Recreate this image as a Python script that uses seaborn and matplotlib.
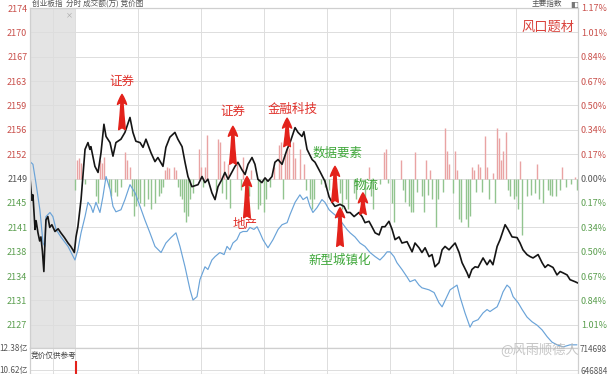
import matplotlib
matplotlib.use("Agg")
import matplotlib.pyplot as plt
import numpy as np
import seaborn as sns

sns.set_theme(style="white")
plt.rcParams["font.family"] = ["Noto Sans CJK SC", "DejaVu Sans"]
plt.rcParams["axes.unicode_minus"] = False

# ---- data ----
prev_close = 2149.2
step = 3.59

left_labels = ["2127", "2131", "2134", "2138", "2141", "2145", "2149",
               "2152", "2156", "2159", "2163", "2167", "2170", "2174"]
right_labels = ["1.01%", "0.84%", "0.67%", "0.50%", "0.34%", "0.17%", "0.00%",
                "0.17%", "0.34%", "0.50%", "0.67%", "0.84%", "1.01%", "1.17%"]

# minutes from the open (negative = call auction), index points
black_t = [-21.4, -20.5, -20.0, -19.0, -18.5, -17.6, -16.8, -16.2, -15.5, -14.8,
           -14.3, -13.8, -12.9, -12.0, -11.0, -9.5, -8.0, -6.7, -5.0, -3.3,
           -2.0, -1.0, -0.3, 0.5, 1.4, 2.9, 4.8, 6.2, 7.1, 7.6,
           9.5, 11.0, 12.4, 13.8, 14.8, 16.7, 18.1, 19.5, 21.9, 23.8,
           26.2, 27.6, 29.0, 31.0, 32.4, 33.8, 36.2, 38.1, 39.5, 41.9,
           43.3, 45.2, 47.6, 49.0, 51.0, 52.4, 53.8, 55.7, 58.6, 60.5,
           61.9, 63.3, 65.2, 66.7, 68.1, 70.0, 71.4, 72.9, 74.8, 76.2,
           77.6, 79.5, 81.0, 82.4, 84.3, 85.7, 87.1, 89.0, 90.5, 91.9,
           93.8, 95.2, 96.7, 98.6, 101.0, 102.4, 104.8, 106.2, 108.1, 109.0,
           110.5, 112.9, 114.3, 116.7, 119.0, 121.0, 122.4, 123.8, 126.2, 128.1,
           129.5, 131.0, 132.9, 135.2, 136.7, 138.1, 140.0, 141.4, 142.9, 144.8,
           146.2, 147.6, 149.5, 151.0, 152.4, 154.3, 155.7, 158.1, 160.5, 161.9,
           163.8, 165.2, 166.7, 168.6, 170.0, 171.4, 173.3, 174.8, 176.2, 178.1,
           179.5, 181.0, 182.9, 184.3, 186.7, 187.6, 189.0, 190.5, 191.9, 194.3,
           196.2, 197.6, 199.0, 201.0, 202.4, 204.8, 206.2, 208.1, 210.5, 211.9,
           213.3, 215.2, 216.7, 218.1, 220.5, 222.4, 223.8, 225.2, 227.6, 229.5,
           231.0, 232.4, 234.3, 235.7, 238.1, 239.5]
black_v = [2149.3, 2146.0, 2146.8, 2141.7, 2143.0, 2141.2, 2140.0, 2140.6, 2138.5, 2135.5,
           2139.7, 2143.1, 2143.6, 2142.0, 2142.4, 2141.4, 2141.8, 2141.2, 2140.5, 2139.7,
           2139.2, 2138.7, 2138.3, 2140.6, 2142.1, 2146.1, 2153.5, 2154.5, 2153.5, 2153.9,
           2151.0, 2150.1, 2153.0, 2157.2, 2155.4, 2154.5, 2152.5, 2154.5, 2155.0, 2156.0,
           2158.2, 2156.0, 2154.7, 2154.5, 2153.8, 2155.0, 2153.0, 2151.7, 2152.3, 2151.0,
           2153.8, 2155.3, 2156.0, 2155.0, 2153.9, 2151.6, 2149.5, 2148.0, 2148.3, 2149.5,
           2148.6, 2149.1, 2147.1, 2146.1, 2148.0, 2149.1, 2150.1, 2149.1, 2150.2, 2151.0,
           2151.6, 2150.5, 2149.8, 2151.3, 2152.3, 2151.3, 2149.1, 2148.6, 2149.3, 2148.8,
           2149.5, 2151.6, 2152.0, 2151.3, 2153.5, 2154.5, 2156.7, 2156.0, 2155.4, 2156.1,
           2153.5, 2152.0, 2151.6, 2150.2, 2148.8, 2146.5, 2145.7, 2145.1, 2145.4, 2145.1,
           2144.2, 2144.2, 2143.6, 2144.2, 2143.6, 2142.7, 2142.9, 2142.1, 2141.2, 2140.9,
           2142.1, 2142.1, 2142.9, 2141.7, 2140.2, 2140.6, 2139.7, 2139.9, 2138.4, 2139.7,
           2139.0, 2138.3, 2139.0, 2137.7, 2138.0, 2136.2, 2136.8, 2138.7, 2139.2, 2138.7,
           2139.2, 2139.7, 2138.3, 2136.8, 2135.3, 2134.6, 2135.8, 2136.2, 2136.1, 2137.5,
           2136.5, 2137.2, 2136.5, 2139.2, 2140.2, 2142.4, 2141.7, 2140.6, 2140.5, 2139.7,
           2138.7, 2138.0, 2137.7, 2137.5, 2138.0, 2136.8, 2136.1, 2136.5, 2136.1, 2135.0,
           2135.5, 2135.3, 2135.0, 2134.3, 2134.0, 2133.8]

blue_t = [-21.4, -20.0, -18.6, -16.7, -15.2, -14.3, -13.8, -11.9, -10.5, -9.0,
          -6.7, -3.3, 0.0, 1.4, 2.9, 4.8, 6.2, 7.6, 8.6, 10.0,
          11.9, 13.3, 14.8, 16.7, 18.1, 19.5, 21.9, 23.8, 26.2, 28.6,
          31.0, 33.3, 35.7, 38.1, 41.0, 43.3, 45.7, 48.1, 50.0, 52.4,
          54.8, 56.2, 58.1, 59.5, 61.9, 63.3, 65.2, 66.7, 69.0, 71.0,
          72.4, 73.8, 75.2, 77.1, 78.6, 80.0, 81.9, 83.3, 85.2, 86.7,
          88.1, 89.5, 91.9, 94.3, 96.7, 98.6, 101.0, 102.4, 104.8, 107.1,
          108.6, 110.5, 111.9, 113.3, 115.2, 117.6, 119.0, 121.0, 122.4, 124.8,
          127.1, 129.5, 131.0, 133.3, 135.7, 138.1, 140.5, 142.9, 145.2, 147.1,
          148.6, 150.0, 151.9, 153.3, 155.7, 158.1, 159.5, 161.9, 163.8, 165.2,
          168.6, 171.0, 173.3, 174.8, 177.1, 178.6, 180.5, 181.9, 183.3, 185.7,
          188.1, 189.5, 191.9, 194.3, 196.2, 197.6, 199.0, 201.0, 202.4, 203.8,
          205.7, 207.1, 208.6, 211.0, 212.9, 215.2, 217.6, 220.0, 222.4, 224.8,
          227.1, 229.5, 232.4, 235.7, 239.0]
blue_v = [2151.7, 2151.3, 2148.6, 2144.6, 2139.7, 2139.2, 2143.6, 2144.2, 2143.6, 2141.7,
          2140.6, 2139.2, 2137.2, 2138.7, 2141.2, 2143.6, 2145.7, 2145.1, 2144.2, 2145.7,
          2144.2, 2146.5, 2149.5, 2147.6, 2145.1, 2144.3, 2144.6, 2146.1, 2148.3, 2147.1,
          2145.1, 2143.1, 2141.2, 2139.2, 2138.3, 2139.7, 2140.5, 2141.2, 2139.2, 2136.2,
          2132.8, 2131.3, 2131.8, 2134.3, 2136.2, 2135.8, 2137.2, 2137.7, 2138.3, 2138.0,
          2139.2, 2138.7, 2139.7, 2140.2, 2141.2, 2141.4, 2141.4, 2142.0, 2141.7, 2142.1,
          2141.2, 2140.2, 2139.0, 2140.2, 2141.7, 2142.4, 2142.7, 2143.9, 2145.7, 2146.8,
          2146.1, 2146.5, 2145.1, 2144.2, 2144.9, 2146.1, 2145.7, 2144.6, 2144.2, 2143.6,
          2142.7, 2141.7, 2141.2, 2140.6, 2139.7, 2139.2, 2138.3, 2137.7, 2137.2, 2137.8,
          2138.4, 2138.4, 2137.7, 2136.8, 2135.8, 2134.7, 2134.0, 2134.3, 2133.5, 2133.1,
          2132.8, 2132.4, 2130.9, 2130.3, 2131.8, 2132.8, 2133.2, 2133.5, 2131.8, 2129.4,
          2127.3, 2128.1, 2128.4, 2129.4, 2129.9, 2129.6, 2129.9, 2130.3, 2131.3, 2132.5,
          2133.5, 2133.1, 2131.8, 2130.9, 2129.9, 2128.8, 2128.1, 2127.6, 2126.9, 2125.9,
          2125.1, 2124.7, 2124.4, 2124.7, 2124.7]

# red/green bars around the 0.00% line, in percent
bar_min = [0, 1, 2, 3, 5, 10, 11, 12, 13, 14,
           16, 17, 19, 20, 22, 24, 25, 26, 27, 28,
           29, 30, 31, 33, 35, 36, 38, 40, 41, 42,
           43, 44, 45, 47, 48, 49, 50, 51, 52, 53,
           54, 55, 56, 59, 60, 61, 62, 63, 67, 68,
           69, 70, 71, 72, 73, 74, 77, 79, 80, 83,
           84, 87, 88, 90, 91, 93, 95, 97, 98, 99,
           100, 101, 102, 104, 105, 107, 109, 110, 112, 113,
           114, 117, 119, 121, 124, 126, 127, 129, 130, 133,
           134, 138, 140, 141, 142, 145, 147, 148, 149, 151,
           152, 155, 156, 157, 159, 160, 161, 162, 163, 165,
           166, 167, 168, 169, 170, 172, 173, 175, 176, 177,
           178, 180, 181, 182, 183, 184, 186, 187, 188, 189,
           190, 191, 192, 193, 194, 195, 196, 197, 199, 200,
           201, 202, 203, 204, 205, 206, 207, 209, 210, 211,
           212, 213, 215, 217, 219, 220, 221, 223, 225, 226,
           227, 229, 231, 232, 234, 236, 238, 239]
bar_pct = [-0.08, 0.13, 0.14, 0.11, -0.04, -0.12, -0.17, 0.13, 0.11, 0.15,
           -0.06, -0.12, -0.09, -0.12, -0.06, 0.18, 0.13, 0.08, -0.12, -0.26,
           -0.19, -0.14, -0.17, -0.19, -0.14, -0.21, -0.17, -0.12, -0.10, -0.06,
           0.06, 0.08, 0.07, 0.08, 0.06, -0.06, -0.12, -0.14, -0.23, -0.30,
           -0.26, -0.14, -0.10, 0.20, 0.08, -0.06, 0.08, 0.30, -0.08, 0.27,
           0.25, -0.10, 0.12, -0.14, 0.10, -0.20, 0.10, -0.08, 0.15, -0.12,
           0.06, -0.21, -0.18, -0.23, -0.14, -0.06, 0.08, 0.23, 0.25, -0.14,
           0.17, 0.20, 0.21, 0.25, 0.14, 0.20, 0.10, -0.08, -0.14, -0.21,
           -0.14, -0.04, -0.06, -0.08, -0.12, -0.10, -0.21, -0.14, -0.21, -0.10,
           -0.14, -0.14, 0.08, -0.12, -0.21, -0.04, 0.18, 0.20, -0.03, -0.17,
           -0.30, 0.13, -0.08, -0.16, -0.19, -0.23, -0.23, 0.18, -0.09, -0.12,
           -0.23, 0.13, -0.11, 0.06, -0.14, -0.33, -0.14, -0.09, 0.35, 0.19,
           0.10, -0.10, 0.19, 0.06, -0.28, -0.30, -0.28, -0.33, -0.26, 0.08,
           0.06, -0.09, 0.10, 0.08, -0.09, 0.29, 0.08, -0.14, 0.04, -0.17,
           0.35, 0.28, 0.13, 0.19, 0.32, -0.08, -0.12, -0.14, -0.12, -0.21,
           0.12, -0.39, -0.12, -0.11, -0.10, 0.10, -0.14, -0.17, -0.08, -0.11,
           -0.12, -0.12, -0.08, 0.08, -0.06, -0.04, 0.01, -0.08]

note_text = ["证券", "证券", "金融科技", "地产", "数据要素", "物流", "新型城镇化"]
note_t = [22.4, 75.2, 101.0, 81.9, 123.8, 137.1, 126.2]
note_tip = [2161.6, 2156.9, 2158.1, 2149.5, 2151.0, 2147.1, 2144.9]
note_base = [2156.4, 2151.3, 2153.9, 2143.4, 2145.7, 2143.9, 2139.2]
note_label_t = [22.4, 75.2, 103.8, 81.0, 124.8, 138.6, 126.2]
note_label_v = [2163.5, 2159.1, 2159.4, 2142.5, 2152.9, 2148.2, 2137.1]
note_up = [True, True, True, True, False, False, False]

vol_ticks = [10.62, 12.38]
vol_left = ["10.62亿", "12.38亿"]
vol_right = ["646884", "714698"]
auction_t = [0.5]
auction_vol = [11.35]

assert len(black_t) == len(black_v)
assert len(blue_t) == len(blue_v)
assert len(bar_min) == len(bar_pct)

# ---- style ----
RED_LAB, GREEN_LAB, GREY_LAB = "#c9504b", "#5a9e4e", "#555555"
RED_BAR, GREEN_BAR = "#e9a3a3", "#92c48f"
ARROW = "#e3221b"
GRID = "#dddddd"
W, H = 608, 374

fig = plt.figure(figsize=(W / 100, H / 100), dpi=100)
ax = fig.add_axes([30 / W, 26 / H, 548 / W, 340 / H])

tick_vals = prev_close + step * np.arange(-6, 8)
ylim = (prev_close - step * 169 / 24.3, prev_close + step * 7)
xlim = (-21.4, 239.5)
grid_x = [-10.5, 0, 30, 60, 90, 120, 150, 180, 210]

ax.axvspan(xlim[0], 0, color="#e4e4e4", zorder=0.2, lw=0)

bar_top = prev_close * (1 + np.array(bar_pct) / 100)
bar_cols = [RED_BAR if p > 0 else GREEN_BAR for p in bar_pct]
ax.vlines(bar_min, prev_close, bar_top, colors=bar_cols, lw=1.0, zorder=2)

sns.lineplot(x=blue_t, y=blue_v, ax=ax, color="#6aa3d8", lw=0.85,
             sort=False, estimator=None, zorder=3)
sns.lineplot(x=black_t, y=black_v, ax=ax, color="#151515", lw=1.2,
             sort=False, estimator=None, zorder=4)

ax.set_xlim(xlim)
ax.set_ylim(ylim)
ax.set_xticks(grid_x)
ax.set_xticklabels([])
ax.set_yticks(tick_vals)
ax.set_yticklabels(left_labels)
ax.set_axisbelow(True)
ax.grid(True, color=GRID, lw=0.7)
ax.tick_params(length=0, labelsize=6.5, pad=2)
ax.set_xlabel("")
ax.set_ylabel("")

lab_cols = [GREEN_LAB] * 6 + [GREY_LAB] + [RED_LAB] * 7
for lab, c in zip(ax.get_yticklabels(), lab_cols):
    lab.set_color(c)

axr = ax.twinx()
axr.set_ylim(ylim)
axr.set_yticks(tick_vals)
axr.set_yticklabels(right_labels)
axr.grid(False)
axr.tick_params(length=0, labelsize=6.5, pad=2)
for lab, c in zip(axr.get_yticklabels(), lab_cols):
    lab.set_color(c)

for a in (ax, axr):
    for s in a.spines.values():
        s.set_color("#cfcfcf")
        s.set_linewidth(0.8)

# arrows + theme labels
for txt, t, tip, base, lt, lv, up in zip(note_text, note_t, note_tip, note_base,
                                         note_label_t, note_label_v, note_up):
    ax.annotate("", xy=(t, tip), xytext=(t, base),
                arrowprops=dict(arrowstyle="fancy,head_length=0.6,head_width=0.55,tail_width=0.4",
                                color=ARROW, shrinkA=0, shrinkB=0, mutation_scale=12),
                zorder=6)
    ax.text(lt, lv, txt, color="#e0302a" if up else "#3fa73a", fontsize=9,
            ha="center", va="center", zorder=7)

ax.text(0.945, 0.944, "风口题材", transform=ax.transAxes, ha="center", va="center",
        color="#d9413a", fontsize=9.5)
ax.text(0.071, 0.979, "×", transform=ax.transAxes, ha="center", va="center",
        color="#a0a0a0", fontsize=5)

fig.text(32 / W, 1 - 4 / H, "创业板指  分时 成交额(万) 竞价图", fontsize=5.5,
         color="#555555", va="center")
fig.text(532 / W, 1 - 4 / H, "主要指数", fontsize=5.5, color="#555555", va="center")
fig.text(570 / W, 1 - 4 / H, "◧", fontsize=6, color="#777777", va="center")

# volume panel
vax = fig.add_axes([30 / W, 0, 548 / W, 26 / H])
vax.vlines(auction_t, 0, auction_vol, colors="#e3221b", lw=1.5, zorder=3)
vol_lim = (10.3, 12.38)
vax.set_xlim(xlim)
vax.set_ylim(vol_lim)
vax.set_xticks(grid_x)
vax.set_xticklabels([])
vax.set_yticks(vol_ticks)
vax.set_yticklabels(vol_left)
vax.grid(True, color=GRID, lw=0.7)
vax.set_axisbelow(True)
vax.tick_params(length=0, labelsize=5.8, pad=1.5, labelcolor=GREY_LAB)
vax.text(-21.0, 11.75, "竞价仅供参考", fontsize=5.5, color="#444444", va="center", ha="left")
vaxr = vax.twinx()
vaxr.set_ylim(vol_lim)
vaxr.set_yticks(vol_ticks)
vaxr.set_yticklabels(vol_right)
vaxr.grid(False)
vaxr.tick_params(length=0, labelsize=5.8, pad=1.5, labelcolor=GREY_LAB)
for a in (vax, vaxr):
    for s in a.spines.values():
        s.set_color("#cfcfcf")
        s.set_linewidth(0.8)

fig.text(500 / W, 1 - 350 / H, "@风雨顺德人", fontsize=9.5, color="#b8b8b8",
         alpha=0.8, va="center", ha="left", zorder=10)

fig.savefig("out.png", dpi=100)
